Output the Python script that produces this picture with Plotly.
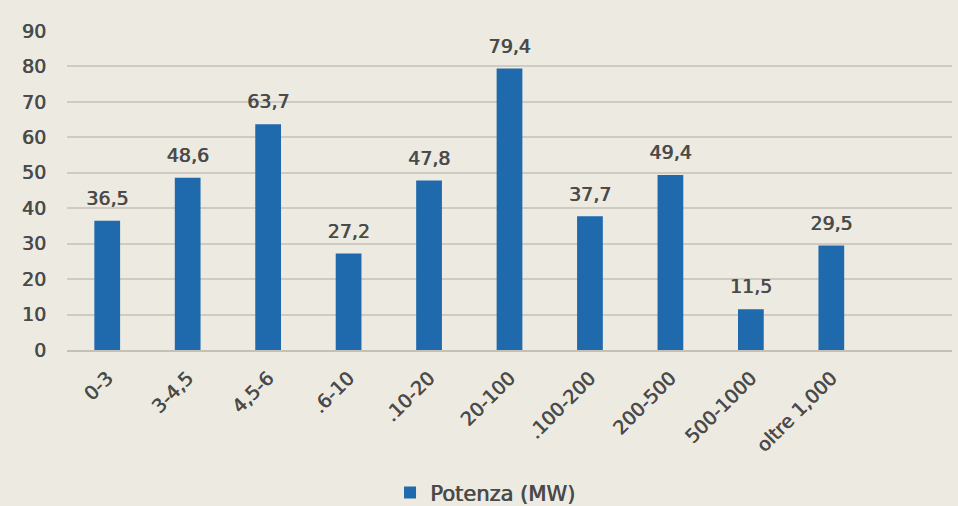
import plotly.graph_objects as go

# Potenza installata per classe di taglia (MW)
categories = ["0-3", "3-4,5", "4,5-6", ".6-10", ".10-20", "20-100",
              ".100-200", "200-500", "500-1000", "oltre 1,000"]
potenza_mw = [36.5, 48.6, 63.7, 27.2, 47.8, 79.4, 37.7, 49.4, 11.5, 29.5]
y_ticks = [0, 10, 20, 30, 40, 50, 60, 70, 80, 90]

bg = "#ECEAE1"
bar_color = "#1F69AD"
text_color = "#4A4A4A"
font_family = "DejaVu Sans, sans-serif"
# a faint horizontal shadow gives the labels a semi-bold look
text_shadow = "0.7px 0 0 #4A4A4A"
x_pos = list(range(len(categories)))


def label_font(size):
    return dict(size=size, color=text_color, family=font_family, shadow=text_shadow)


fig = go.Figure()
fig.add_trace(go.Bar(
    x=x_pos,
    y=potenza_mw,
    name="Potenza (MW)",
    marker=dict(color=bar_color, line=dict(width=0)),
    width=0.32,
    hoverinfo="x+y",
))

# value labels above each bar
fig.add_trace(go.Scatter(
    x=x_pos,
    y=potenza_mw,
    mode="markers+text",
    marker=dict(size=16, opacity=0),
    texttemplate="%{y:.1f}",
    textposition="top center",
    textfont=label_font(19),
    showlegend=False,
    hoverinfo="skip",
    cliponaxis=False,
))

fig.update_layout(
    width=958, height=506,
    paper_bgcolor=bg, plot_bgcolor=bg,
    separators=", ",
    margin=dict(l=67, r=6, t=31, b=156, autoexpand=False),
    font=dict(family=font_family, size=19, color=text_color),
    showlegend=True,
    legend=dict(orientation="h", x=0.365, xanchor="left", y=-0.448, yanchor="middle",
                font=label_font(21), itemwidth=30,
                bgcolor="rgba(0,0,0,0)"),
    xaxis=dict(
        tickmode="array",
        tickvals=x_pos,
        ticktext=categories,
        range=[-0.5, 10.5],
        tickangle=-45,
        showgrid=False,
        showline=True, linecolor="#C4C0B6", linewidth=1.5,
        ticks="", ticklabelstandoff=8, automargin=False,
        tickfont=label_font(19),
    ),
    yaxis=dict(
        range=[0, 90],
        tickvals=y_ticks,
        showgrid=True, gridcolor="#CFCBC2", gridwidth=1.5,
        zeroline=False, ticks="", ticklabelstandoff=20, automargin=False,
        tickfont=label_font(19),
    ),
)

fig.write_html("out.html")
